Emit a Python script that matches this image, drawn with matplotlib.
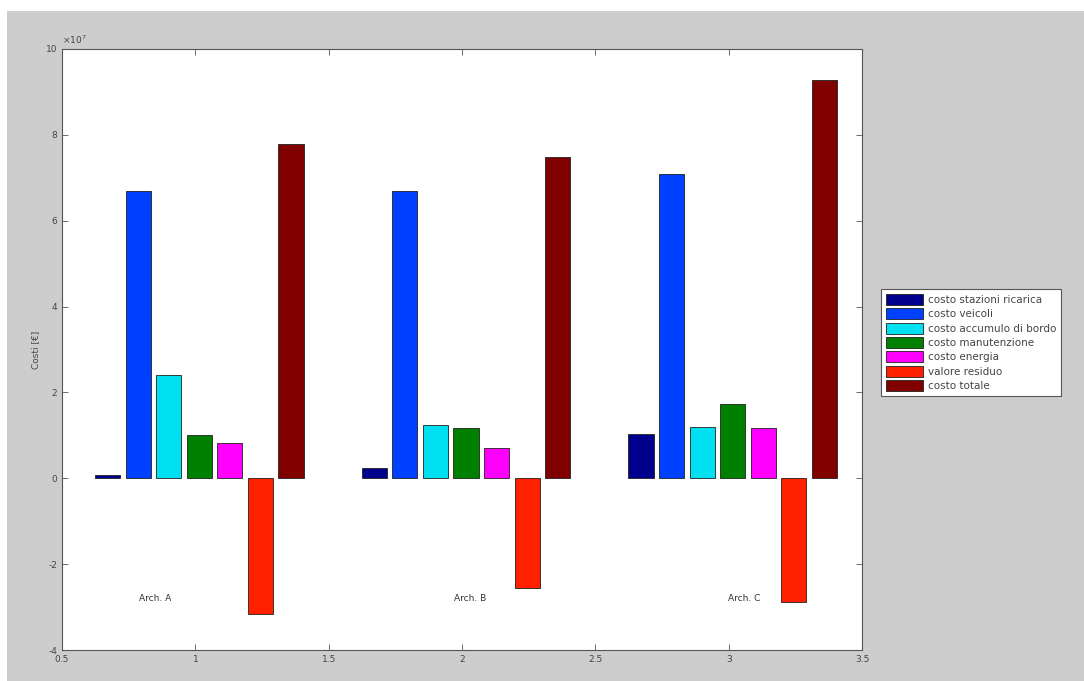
#!/usr/bin/env python3
import numpy as np
import matplotlib
matplotlib.use('Agg')
import matplotlib.pyplot as plt
from matplotlib.patches import Rectangle
from matplotlib.ticker import FuncFormatter

# Architectures (group positions on the x axis)
groups = [1, 2, 3]
group_labels = ['Arch. A', 'Arch. B', 'Arch. C']

# Cost items (legend entries)
series_names = ['costo stazioni ricarica', 'costo veicoli', 'costo accumulo di bordo',
                'costo manutenzione', 'costo energia', 'valore residuo', 'costo totale']

# Values in euro (one list per cost item, A/B/C)
costo_stazioni = [0.08e7, 0.25e7, 1.02e7]
costo_veicoli = [6.70e7, 6.70e7, 7.08e7]
costo_accumulo = [2.40e7, 1.24e7, 1.20e7]
costo_manutenzione = [1.00e7, 1.16e7, 1.72e7]
costo_energia = [0.82e7, 0.70e7, 1.16e7]
valore_residuo = [-3.17e7, -2.56e7, -2.88e7]
costo_totale = [7.78e7, 7.48e7, 9.28e7]

series_values = [costo_stazioni, costo_veicoli, costo_accumulo, costo_manutenzione,
                 costo_energia, valore_residuo, costo_totale]

colors = ['#00008c', '#0040ff', '#00e0f0', '#008000', '#ff00ff', '#ff2000', '#800000']

fig = plt.figure(figsize=(10.84, 6.81), dpi=100)
fig.patch.set_facecolor('white')
# gray matlab-style window background, slightly offset like the screenshot
fig.patches.append(Rectangle((7 / 1084, 0), 1, 1 - 11 / 681, transform=fig.transFigure,
                             facecolor='#cdcdcd', edgecolor='none', zorder=-10))

ax = fig.add_axes([62 / 1084, 31 / 681, 800 / 1084, 601 / 681])

step = 0.1146
width = 0.094
x = np.array(groups, dtype=float)
for i, (name, vals, col) in enumerate(zip(series_names, series_values, colors)):
    ax.bar(x + (i - 3) * step + 0.015, vals, width=width, color=col, edgecolor='#202020',
           linewidth=0.6, label=name, zorder=2)

# architecture labels
label_x = [0.85, 2.03, 3.06]
for lx, txt in zip(label_x, group_labels):
    ax.text(lx, -2.8e7, txt, fontsize=6.5, color='#333333', ha='center', va='center')

ax.set_xlim(0.5, 3.5)
ax.set_ylim(-4e7, 10e7)
ax.set_xticks([0.5, 1, 1.5, 2, 2.5, 3, 3.5])
ax.set_xticklabels(['0.5', '1', '1.5', '2', '2.5', '3', '3.5'])
ax.set_yticks(np.arange(-4e7, 10.1e7, 2e7))
ax.yaxis.set_major_formatter(FuncFormatter(lambda v, p: f'{v / 1e7:g}'))
ax.text(0.0, 1.005, r'$\times10^{7}$', transform=ax.transAxes, fontsize=6.5,
        color='#444444', ha='left', va='bottom')
ax.tick_params(direction='in', top=True, right=True, length=4, width=0.6,
               labelsize=6.5, labelcolor='#444444', colors='#555555')
for sp in ax.spines.values():
    sp.set_color('#555555')
    sp.set_linewidth(0.8)
ax.set_ylabel('Costi [€]', fontsize=6.5, color='#444444')

leg = ax.legend(loc='upper left', bbox_to_anchor=(876 / 1084, 1 - 284 / 681),
                bbox_transform=fig.transFigure, fontsize=7.5, frameon=True,
                fancybox=False, edgecolor='#555555', facecolor='white', framealpha=1,
                handlelength=3.6, handleheight=1.25, labelspacing=0.32, borderpad=0.45,
                handletextpad=0.4)
leg.get_frame().set_linewidth(0.8)
for t in leg.get_texts():
    t.set_color('#444444')

fig.savefig('out.png', dpi=100, facecolor=fig.get_facecolor())
